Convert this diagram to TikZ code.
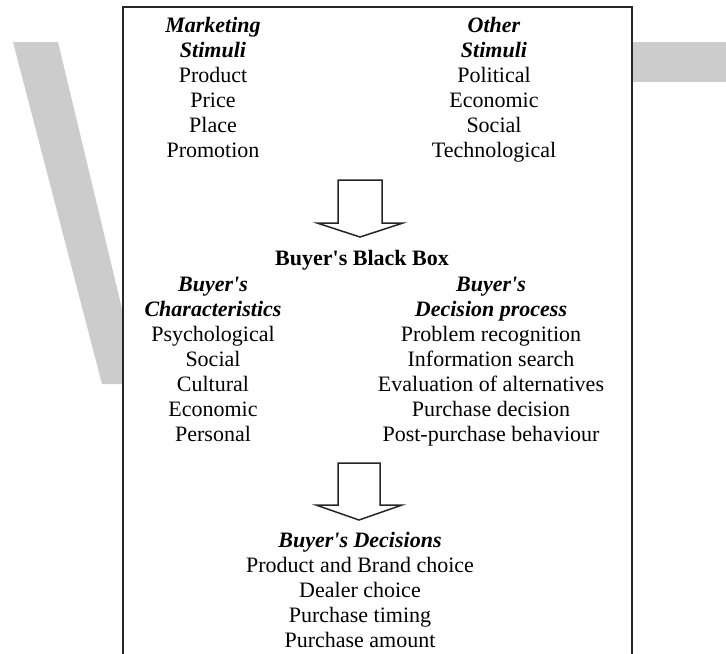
\documentclass[tikz,border=0pt]{standalone}
\usepackage{fontspec}
\setmainfont{Liberation Serif}
\usetikzlibrary{positioning}
\newcommand{\bihead}[1]{\textbf{\textit{#1}}}
\newcommand{\buyers}{Buyer\textquotesingle s}

\begin{document}
\begin{tikzpicture}[x=0.5pt, y=-0.5pt,
                    col/.style={align=center, inner sep=0pt, anchor=base, font=\fontsize{11}{12.5}\selectfont},
                    blockarrow/.style={draw=black!85, line width=0.75pt, fill=white, line join=miter},
                    wmark/.style={fill=black!20, draw=none}]
\useasboundingbox[fill=white] (0,0) rectangle (726,653);

% Grey logo pieces behind the page
\fill[wmark] (13,42) -- (58,42) -- (140,384) -- (102,384) -- cycle;
\fill[wmark] (560,42) rectangle (726,82);

% The page itself
\fill[white] (123,7) rectangle (632,660);
\draw[line width=1pt, black!85] (123,660) -- (123,7) -- (632,7) -- (632,660);

% Stimuli (base anchor sits on the last line)
\node[col] (mktstim) at (213,157) {\bihead{Marketing}\\ \bihead{Stimuli}\\ Product\\ Price\\ Place\\ Promotion};
\node[col] (othstim) at (494,157) {\bihead{Other}\\ \bihead{Stimuli}\\ Political\\ Economic\\ Social\\ Technological};

% Black box
\coordinate (arrowA) at (360,180);
\draw[blockarrow] (arrowA) ++(-22,0) -- ++(0,43) -- ++(-21,0) -- ++(43,14) -- ++(43,-14) -- ++(-21,0) -- ++(0,-43) -- cycle;
\node[col, font=\fontsize{11}{12.5}\selectfont\bfseries] (blackbox) at (362,265) {\buyers{} Black Box};
\node[col] (charac) at (213,441) {\bihead{\buyers}\\ \bihead{Characteristics}\\ Psychological\\ Social\\ Cultural\\ Economic\\ Personal};
\node[col] (decproc) at (491,441) {\bihead{\buyers}\\ \bihead{Decision process}\\ Problem recognition\\ Information search\\ Evaluation of alternatives\\ Purchase decision\\ Post-purchase behaviour};

% Decisions
\coordinate (arrowB) at (359,463);
\draw[blockarrow] (arrowB) ++(-21,0) -- ++(0,42) -- ++(-22,0) -- ++(43,15) -- ++(43,-15) -- ++(-22,0) -- ++(0,-42) -- cycle;
\node[col] (decis) at (360,647) {\bihead{\buyers{} Decisions}\\ Product and Brand choice\\ Dealer choice\\ Purchase timing\\ Purchase amount};

\end{tikzpicture}
\end{document}
